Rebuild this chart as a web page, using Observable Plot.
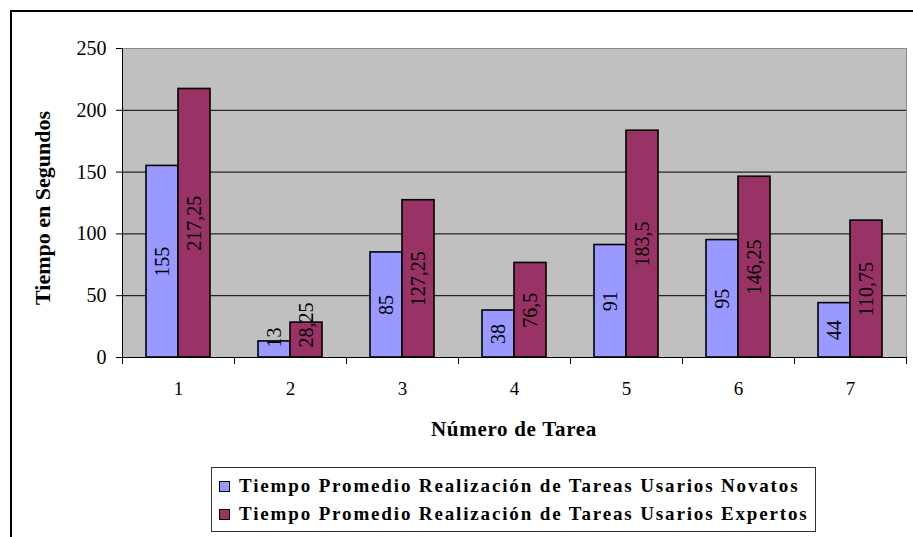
<!DOCTYPE html>
<html>
<head>
<meta charset="utf-8">
<script src="https://cdn.jsdelivr.net/npm/d3@7"></script>
<script src="https://cdn.jsdelivr.net/npm/@observablehq/plot@0.6"></script>
<style>
  html, body { margin: 0; padding: 0; background: #fff; }
  body { width: 913px; height: 537px; overflow: hidden; position: relative; font-family: "Liberation Serif", "Times New Roman", serif; }
  #frame { position: absolute; left: 10px; top: 10px; width: 930px; height: 560px; border: 2px solid #000; box-sizing: border-box; }
  #chart { position: absolute; left: 0; top: 0; }
  .title { position: absolute; font-weight: bold; white-space: nowrap; color: #000; }
  #ytitle { left: 43px; top: 208px; font-size: 22px; transform: translate(-50%, -50%) rotate(-90deg); }
  #xtitle { left: 514px; top: 429px; font-size: 21px; transform: translate(-50%, -50%); letter-spacing: 0.7px; }
  #legend { position: absolute; left: 211px; top: 467px; width: 605px; height: 65px; border: 1px solid #333; background: #fff; box-sizing: border-box; }
  .row { position: absolute; left: 7px; height: 24px; display: flex; align-items: center; font-weight: bold; font-size: 19px; letter-spacing: 1.85px; white-space: nowrap; }
  .sw { width: 9px; height: 9px; border: 1px solid #000; margin-right: 9px; flex: none; }
</style>
</head>
<body>
<div id="frame"></div>
<div id="chart"></div>
<div id="ytitle" class="title"></div>
<div id="xtitle" class="title"></div>
<div id="legend"></div>
<script>
// ---- data ----
const tasks = ["1", "2", "3", "4", "5", "6", "7"];
const novatos = [155, 13, 85, 38, 91, 95, 44];
const expertos = [217.25, 28.25, 127.25, 76.5, 183.5, 146.25, 110.75];
const seriesNames = [
  "Tiempo Promedio Realización de Tareas Usarios Novatos",
  "Tiempo Promedio Realización de Tareas Usarios Expertos"
];
const seriesColors = ["#9999FF", "#993366"];
const yTicks = [0, 50, 100, 150, 200, 250];
const yTitle = "Tiempo en Segundos";
const xTitle = "Número de Tarea";

const data = tasks.flatMap((t, i) => [
  {task: t, series: seriesNames[0], value: novatos[i]},
  {task: t, series: seriesNames[1], value: expertos[i]}
]);

// ---- layout ----
const W = 913, H = 450, mT = 48, mB = 93, mL = 120, mR = 5;
const serif = '"Liberation Serif", "Times New Roman", serif';
const labelFont = 20;
const pxPerUnit = (H - mT - mB) / (yTicks[yTicks.length - 1] - yTicks[0]);
const fmt = v => String(v).replace(".", ",");
const ctx = document.createElement("canvas").getContext("2d");
ctx.font = `${labelFont}px "Liberation Serif"`;
// label centred in the bar, but kept clear of the axis for short bars
const labelY = d => Math.max(d.value / 2, (ctx.measureText(fmt(d.value)).width / 2 + 10) / pxPerUnit);

const chart = Plot.plot({
  width: W, height: H,
  marginTop: mT, marginBottom: mB, marginLeft: mL, marginRight: mR,
  style: {fontFamily: serif, background: "transparent", overflow: "visible", color: "#000"},
  fx: {domain: tasks, padding: 0, label: null},
  x: {domain: seriesNames, paddingInner: 0, paddingOuter: 0.75, axis: null},
  y: {domain: [yTicks[0], yTicks[yTicks.length - 1]], label: null},
  color: {domain: seriesNames, range: seriesColors},
  marks: [
    Plot.frame({facet: "super", fill: "#C0C0C0"}),
    Plot.ruleY(yTicks.slice(1, -1), {stroke: "#000", strokeWidth: 1}),
    Plot.frame({facet: "super", anchor: "top", stroke: "#8a8a8a", strokeWidth: 1}),
    Plot.frame({facet: "super", anchor: "right", stroke: "#8a8a8a", strokeWidth: 1}),
    Plot.barY(data, {fx: "task", x: "series", y: "value", fill: "series", stroke: "#000", strokeWidth: 1.6}),
    Plot.text(data, {fx: "task", x: "series", y: labelY, text: d => fmt(d.value), rotate: -90, fontSize: labelFont, fontFamily: serif, fill: "#000"}),
    Plot.frame({facet: "super", anchor: "bottom", stroke: "#000", strokeWidth: 1}),
    Plot.frame({facet: "super", anchor: "left", stroke: "#000", strokeWidth: 1}),
    Plot.frame({anchor: "left", insetTop: H - mT - mB, insetBottom: -6, stroke: "#000"}),
    Plot.frame({anchor: "right", insetTop: H - mT - mB, insetBottom: -6, stroke: "#000"}),
    Plot.axisY({ticks: yTicks, tickSize: 6, tickPadding: 10, fontSize: 20, fontFamily: serif, label: null, stroke: "#000", fill: "#000"}),
    Plot.axisFx({anchor: "bottom", tickSize: 0, tickPadding: 24, fontSize: 19, fontFamily: serif, label: null, fill: "#000"})
  ]
});
document.getElementById("chart").appendChild(chart);

document.getElementById("ytitle").textContent = yTitle;
document.getElementById("xtitle").textContent = xTitle;

const legend = document.getElementById("legend");
seriesNames.forEach((name, i) => {
  const row = document.createElement("div");
  row.className = "row";
  row.style.top = (6 + i * 28) + "px";
  const sw = document.createElement("span");
  sw.className = "sw";
  sw.style.background = seriesColors[i];
  const tx = document.createElement("span");
  tx.textContent = name;
  row.appendChild(sw);
  row.appendChild(tx);
  legend.appendChild(row);
});
</script>
</body>
</html>
